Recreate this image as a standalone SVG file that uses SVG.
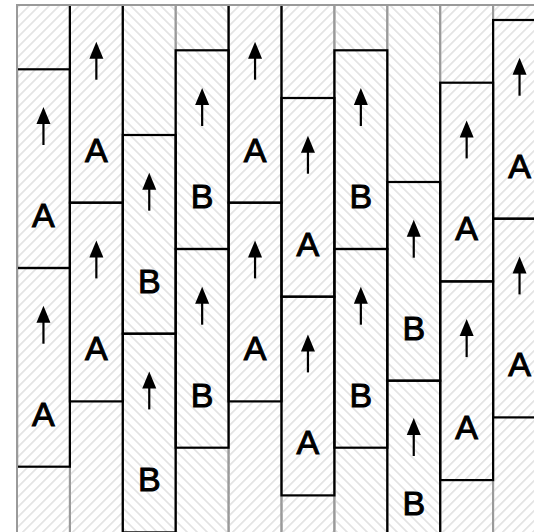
<svg xmlns="http://www.w3.org/2000/svg" xmlns:xlink="http://www.w3.org/1999/xlink" width="534" height="532" viewBox="0 0 534 532">
<style>
.col{stroke:#9a9a9a;stroke-width:2}
.ca{fill:url(#hatchA)}
.cb{fill:url(#hatchB)}
.panel{fill:none;stroke:#000;stroke-width:2.2}
.lbl{font-family:"Liberation Sans",Arial,sans-serif;font-size:34px;fill:#000;stroke:#000;stroke-width:1;text-anchor:middle}
.frame{fill:none;stroke:#9a9a9a;stroke-width:2}
</style>
<defs>
<pattern id="hatchA" patternUnits="userSpaceOnUse" width="7.07" height="7.07" patternTransform="rotate(45)">
<line x1="3.5" y1="-1" x2="3.5" y2="8.1" stroke="#dcdcdc" stroke-width="1.4"/>
</pattern>
<pattern id="hatchB" patternUnits="userSpaceOnUse" width="7.07" height="7.07" patternTransform="rotate(-45)">
<line x1="3.5" y1="-1" x2="3.5" y2="8.1" stroke="#dcdcdc" stroke-width="1.4"/>
</pattern>
<g id="arr">
<line x1="0" y1="12" x2="0" y2="38" stroke="#000" stroke-width="2.2"/>
<path d="M0,0 L-7,17 L7,17 Z" fill="#000"/>
</g>
<clipPath id="clip"><rect x="17" y="5" width="600" height="600"/></clipPath>
</defs>
<g id="columns">
<rect class="col ca" x="17" y="5" width="52.9" height="560"/>
<rect class="col ca" x="69.9" y="5" width="52.9" height="560"/>
<rect class="col cb" x="122.8" y="5" width="52.9" height="560"/>
<rect class="col cb" x="175.7" y="5" width="52.9" height="560"/>
<rect class="col ca" x="228.6" y="5" width="52.9" height="560"/>
<rect class="col ca" x="281.5" y="5" width="52.9" height="560"/>
<rect class="col cb" x="334.4" y="5" width="52.9" height="560"/>
<rect class="col cb" x="387.3" y="5" width="52.9" height="560"/>
<rect class="col ca" x="440.2" y="5" width="52.9" height="560"/>
<rect class="col ca" x="493.1" y="5" width="52.9" height="560"/>
</g>
<g id="panels" clip-path="url(#clip)">
<g id="p1a"><rect class="panel" x="17" y="69.3" width="52.9" height="198.7"/><use xlink:href="#arr" x="43.45" y="107"/><text class="lbl" x="43.45" y="226.8">A</text></g>
<g id="p1b"><rect class="panel" x="17" y="268" width="52.9" height="198.7"/><use xlink:href="#arr" x="43.45" y="305.7"/><text class="lbl" x="43.45" y="425.5">A</text></g>
<g id="p2a"><rect class="panel" x="69.9" y="4" width="52.9" height="198.7"/><use xlink:href="#arr" x="96.35" y="41.7"/><text class="lbl" x="96.35" y="161.5">A</text></g>
<g id="p2b"><rect class="panel" x="69.9" y="202.7" width="52.9" height="198.7"/><use xlink:href="#arr" x="96.35" y="240.4"/><text class="lbl" x="96.35" y="360.2">A</text></g>
<g id="p3a"><rect class="panel" x="122.8" y="135" width="52.9" height="198.7"/><use xlink:href="#arr" x="149.25" y="172.7"/><text class="lbl" x="149.25" y="292.5">B</text></g>
<g id="p3b"><rect class="panel" x="122.8" y="333.7" width="52.9" height="198.7"/><use xlink:href="#arr" x="149.25" y="371.4"/><text class="lbl" x="149.25" y="491.2">B</text></g>
<g id="p4a"><rect class="panel" x="175.7" y="50.3" width="52.9" height="198.7"/><use xlink:href="#arr" x="202.15" y="88"/><text class="lbl" x="202.15" y="207.8">B</text></g>
<g id="p4b"><rect class="panel" x="175.7" y="249" width="52.9" height="198.7"/><use xlink:href="#arr" x="202.15" y="286.7"/><text class="lbl" x="202.15" y="406.5">B</text></g>
<g id="p5a"><rect class="panel" x="228.6" y="4" width="52.9" height="198.7"/><use xlink:href="#arr" x="255.05" y="41.7"/><text class="lbl" x="255.05" y="161.5">A</text></g>
<g id="p5b"><rect class="panel" x="228.6" y="202.7" width="52.9" height="198.7"/><use xlink:href="#arr" x="255.05" y="240.4"/><text class="lbl" x="255.05" y="360.2">A</text></g>
<g id="p6a"><rect class="panel" x="281.5" y="98" width="52.9" height="198.7"/><use xlink:href="#arr" x="307.95" y="135.7"/><text class="lbl" x="307.95" y="255.5">A</text></g>
<g id="p6b"><rect class="panel" x="281.5" y="296.7" width="52.9" height="198.7"/><use xlink:href="#arr" x="307.95" y="334.4"/><text class="lbl" x="307.95" y="454.2">A</text></g>
<g id="p7a"><rect class="panel" x="334.4" y="50.3" width="52.9" height="198.7"/><use xlink:href="#arr" x="360.85" y="88"/><text class="lbl" x="360.85" y="207.8">B</text></g>
<g id="p7b"><rect class="panel" x="334.4" y="249" width="52.9" height="198.7"/><use xlink:href="#arr" x="360.85" y="286.7"/><text class="lbl" x="360.85" y="406.5">B</text></g>
<g id="p8a"><rect class="panel" x="387.3" y="182" width="52.9" height="198.7"/><use xlink:href="#arr" x="413.75" y="219.7"/><text class="lbl" x="413.75" y="339.5">B</text></g>
<g id="p8b"><rect class="panel" x="387.3" y="380.7" width="52.9" height="198.7"/><use xlink:href="#arr" x="413.75" y="418"/><text class="lbl" x="413.75" y="515">B</text></g>
<g id="p9a"><rect class="panel" x="440.2" y="82.7" width="52.9" height="198.7"/><use xlink:href="#arr" x="466.65" y="120.4"/><text class="lbl" x="466.65" y="240.2">A</text></g>
<g id="p9b"><rect class="panel" x="440.2" y="281.4" width="52.9" height="198.7"/><use xlink:href="#arr" x="466.65" y="319.1"/><text class="lbl" x="466.65" y="438.9">A</text></g>
<g id="p10a"><rect class="panel" x="493.1" y="20" width="52.9" height="198.7"/><use xlink:href="#arr" x="519.55" y="57.7"/><text class="lbl" x="519.55" y="177.5">A</text></g>
<g id="p10b"><rect class="panel" x="493.1" y="218.7" width="52.9" height="198.7"/><use xlink:href="#arr" x="519.55" y="256.4"/><text class="lbl" x="519.55" y="376.2">A</text></g>
</g>
<g id="connectors"/>
<g id="frame">
<line class="frame" x1="16" y1="5" x2="534" y2="5"/>
<line class="frame" x1="17" y1="4" x2="17" y2="532"/>
</g>
</svg>
